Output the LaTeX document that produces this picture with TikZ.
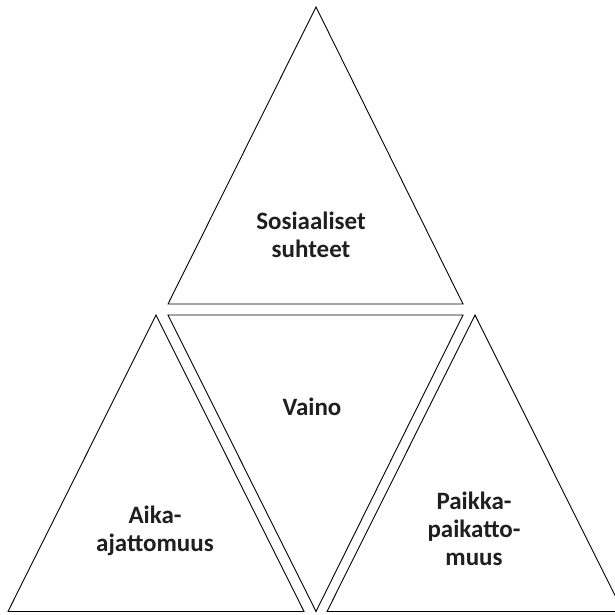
\documentclass[tikz,border=0pt]{standalone}
\usepackage{fontspec}
\setmainfont{Carlito}
\begin{document}
\begin{tikzpicture}[x=1pt,y=-1pt,
  tri/.style={draw=black,line width=0.9pt,line join=miter},
  lbl/.style={font=\bfseries\fontsize{25}{28}\selectfont,align=center,text=black!88}]
\useasboundingbox (0,0) rectangle (615,614);
\begin{scope}
\clip (0,0) rectangle (615,614);
\coordinate (tA) at (316,7);
\coordinate (tL) at (168,304);
\coordinate (tR) at (463,304);
\draw[tri] (tA) -- (tL) -- (tR) -- cycle;
\coordinate (mL) at (168,315);
\coordinate (mR) at (463,315);
\coordinate (mB) at (316,611.5);
\draw[tri] (mL) -- (mR) -- (mB) -- cycle;
\coordinate (lA) at (156,315);
\coordinate (lL) at (8,611.5);
\coordinate (lR) at (304,611.5);
\draw[tri] (lA) -- (lL) -- (lR) -- cycle;
\coordinate (rA) at (475,315);
\coordinate (rL) at (327,611.5);
\coordinate (rR) at (623,611.5);
\draw[tri] (rA) -- (rL) -- (rR) -- cycle;
\end{scope}
\node[lbl] (top) at (311,235) {Sosiaaliset\\suhteet};
\node[lbl] (mid) at (312,407) {Vaino};
\node[lbl] (left) at (155,531) {Aika-\\ajattomuus};
\node[lbl] (right) at (474,529) {Paikka-\\paikatto-\\muus};
\end{tikzpicture}
\end{document}
